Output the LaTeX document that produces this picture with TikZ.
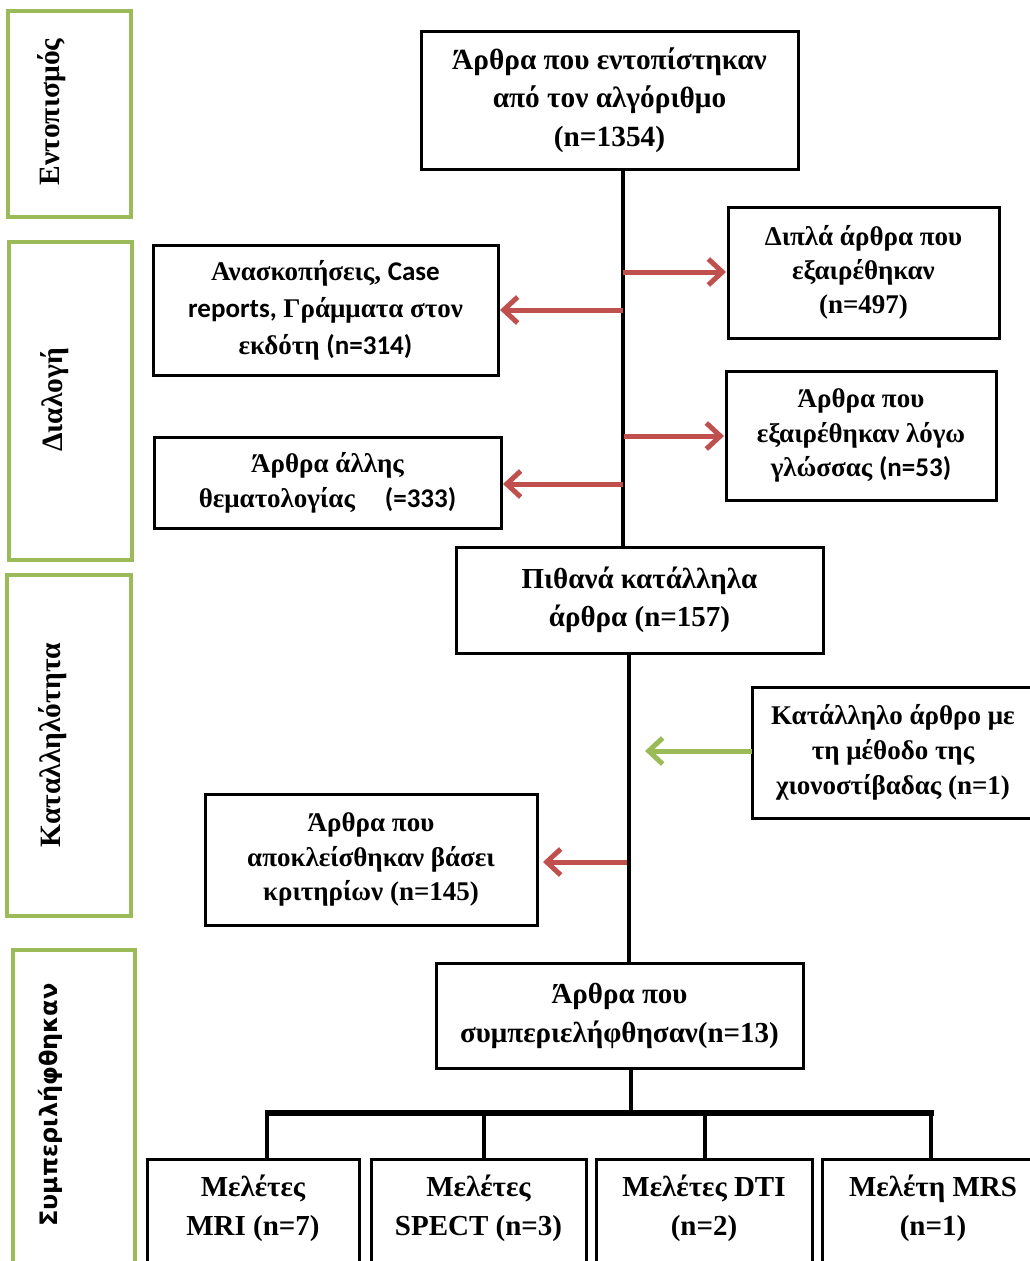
\documentclass[tikz,border=0pt]{standalone}
\usepackage{fontspec}
\setmainfont{Liberation Serif}
\newfontfamily\calfont{Carlito}
\newfontfamily\vsfont{DejaVu Sans}
\usetikzlibrary{arrows.meta}
\definecolor{sidegreen}{HTML}{9BBB59}
\definecolor{arrred}{HTML}{C0504D}
\tikzset{
  box/.style={draw=black, line width=3pt, outer sep=0pt, inner sep=0pt, align=center,
    font=\bfseries\fontsize{27}{37}\selectfont},
  bigbox/.style={box, font=\bfseries\fontsize{29}{38}\selectfont},
  boxtext/.style={align=center, inner sep=0pt, font=\bfseries\fontsize{29}{39}\selectfont},
  sidebox/.style={draw=sidegreen, line width=4pt, outer sep=0pt, inner sep=0pt},
  sidetext/.style={rotate=90, inner sep=0pt, font=\bfseries\fontsize{29.5}{30}\selectfont},
  spine/.style={line width=4.5pt, black},
  redarrow/.style={draw=arrred, line width=5pt, -{Straight Barb[length=14pt,width=26pt]}},
  greenarrow/.style={draw=sidegreen, line width=5pt, -{Straight Barb[length=14pt,width=26pt]}},
}
\begin{document}
\begin{tikzpicture}[x=1pt,y=-1pt]
\useasboundingbox (0,0) rectangle (1030,1261);
\clip (0,0) rectangle (1030,1261);

% side stage boxes
\node[sidebox, minimum width=123pt, minimum height=206pt] (s1) at (69.5,114) {};
\node[sidebox, minimum width=123pt, minimum height=318pt] (s2) at (70.5,401) {};
\node[sidebox, minimum width=124pt, minimum height=341pt] (s3) at (69,745.5) {};
\node[sidebox, minimum width=122pt, minimum height=330pt] (s4) at (74,1115) {};
\node[sidetext] (s1t) at (52,112) {Εντοπισμός};
\node[sidetext] (s2t) at (55,400) {Διαλογή};
\node[sidetext] (s3t) at (53,745) {Καταλληλότητα};
\node[sidetext, font=\bfseries\vsfont\fontsize{24}{28}\selectfont] (s4t) at (50,1105) {Συμπεριλήφθηκαν};

% main boxes
\node[box, minimum width=377pt, minimum height=138pt, font=\bfseries\fontsize{29.3}{38.5}\selectfont] (top) at (609.5,100)
  {Άρθρα που εντοπίστηκαν\\από τον αλγόριθμο\\(n=1354)};
\node[box, minimum width=271pt, minimum height=131pt, font=\bfseries\fontsize{27}{34}\selectfont] (dipla) at (863.5,272.5)
  {Διπλά άρθρα που\\εξαιρέθηκαν\\(n=497)};
\node[box, minimum width=345pt, minimum height=130pt] (anask) at (325.5,310)
  {Ανασκοπήσεις, {\calfont Case}\\{\calfont reports,} Γράμματα στον\\εκδότη {\calfont (n=314)}};
\node[box, minimum width=270pt, minimum height=129pt, font=\bfseries\fontsize{27}{34.5}\selectfont] (gloss) at (861,435.5)
  {Άρθρα που\\εξαιρέθηκαν λόγω\\γλώσσας {\calfont (n=53)}};
\node[box, minimum width=347pt, minimum height=91pt, font=\bfseries\fontsize{27}{35}\selectfont] (allis) at (327.5,482.5)
  {Άρθρα άλλης\\θεματολογίας\hspace{30pt}{\calfont (=333)}};
\node[bigbox, minimum width=367pt, minimum height=106pt] (pith) at (639.5,600)
  {Πιθανά κατάλληλα\\άρθρα (n=157)};
\node[bigbox, minimum width=282pt, minimum height=131pt, font=\bfseries\fontsize{27}{35}\selectfont] (katal) at (893,752.5)
  {Κατάλληλο άρθρο με\\τη μέθοδο της\\χιονοστίβαδας (n=1)};
\node[bigbox, minimum width=332pt, minimum height=131pt, font=\bfseries\fontsize{27}{34.5}\selectfont] (apokl) at (371,859.5)
  {Άρθρα που\\αποκλείσθηκαν βάσει\\κριτηρίων (n=145)};
\node[bigbox, minimum width=367pt, minimum height=105pt, font=\bfseries\fontsize{29}{39}\selectfont] (symp) at (619.5,1015.5)
  {Άρθρα που\\συμπεριελήφθησαν(n=13)};

% bottom boxes
\node[box, minimum width=212pt, minimum height=120pt, anchor=north] (mri) at (253,1159) {};
\node[box, minimum width=215pt, minimum height=120pt, anchor=north] (spect) at (478.5,1159) {};
\node[box, minimum width=216pt, minimum height=120pt, anchor=north] (dti) at (704,1159) {};
\node[box, minimum width=222pt, minimum height=120pt, anchor=north] (mrs) at (933,1159) {};
\node[boxtext] (mrit) at (253,1208) {Μελέτες\\MRI (n=7)};
\node[boxtext] (spectt) at (478.5,1208) {Μελέτες\\SPECT (n=3)};
\node[boxtext] (dtit) at (704,1208) {Μελέτες DTI\\(n=2)};
\node[boxtext] (mrst) at (933,1208) {Μελέτη MRS\\(n=1)};

% spine coordinates
\coordinate (sp1) at (623,0);
\coordinate (sp2) at (629,0);
\coordinate (sp3) at (631,0);
\draw[spine] (top.south -| sp1) -- (pith.north -| sp1);
\draw[spine] (pith.south -| sp2) -- (symp.north -| sp2);
\coordinate (bar) at (631,1113);
\draw[spine] (symp.south -| sp3) -- (bar);

% branch bar
\coordinate (b1) at (267,1113);
\coordinate (b2) at (484,1113);
\coordinate (b3) at (705,1113);
\coordinate (b4) at (931,1113);
\draw[line width=6pt] ([xshift=-2.5pt]b1) -- ([xshift=2.5pt]b4);
\draw[spine] (b1) -- (b1 |- mri.north);
\draw[spine] (b2) -- (b2 |- spect.north);
\draw[spine] (b3) -- (b3 |- dti.north);
\draw[spine] (b4) -- (b4 |- mrs.north);

% arrows
\coordinate (a1) at (623,272);
\coordinate (a2) at (623,310);
\coordinate (a3) at (624,436);
\coordinate (a4) at (623,484);
\coordinate (a5) at (627,862);
\coordinate (g1) at (645,751);
\draw[redarrow] (a1) -- ([xshift=-2pt]dipla.west |- a1);
\draw[redarrow] (a2) -- ([xshift=2pt]anask.east |- a2);
\draw[redarrow] (a3) -- ([xshift=-2pt]gloss.west |- a3);
\draw[redarrow] (a4) -- ([xshift=2pt]allis.east |- a4);
\draw[redarrow] (a5) -- ([xshift=6pt]apokl.east |- a5);
\draw[greenarrow] (katal.west |- g1) -- (g1);
\end{tikzpicture}
\end{document}
